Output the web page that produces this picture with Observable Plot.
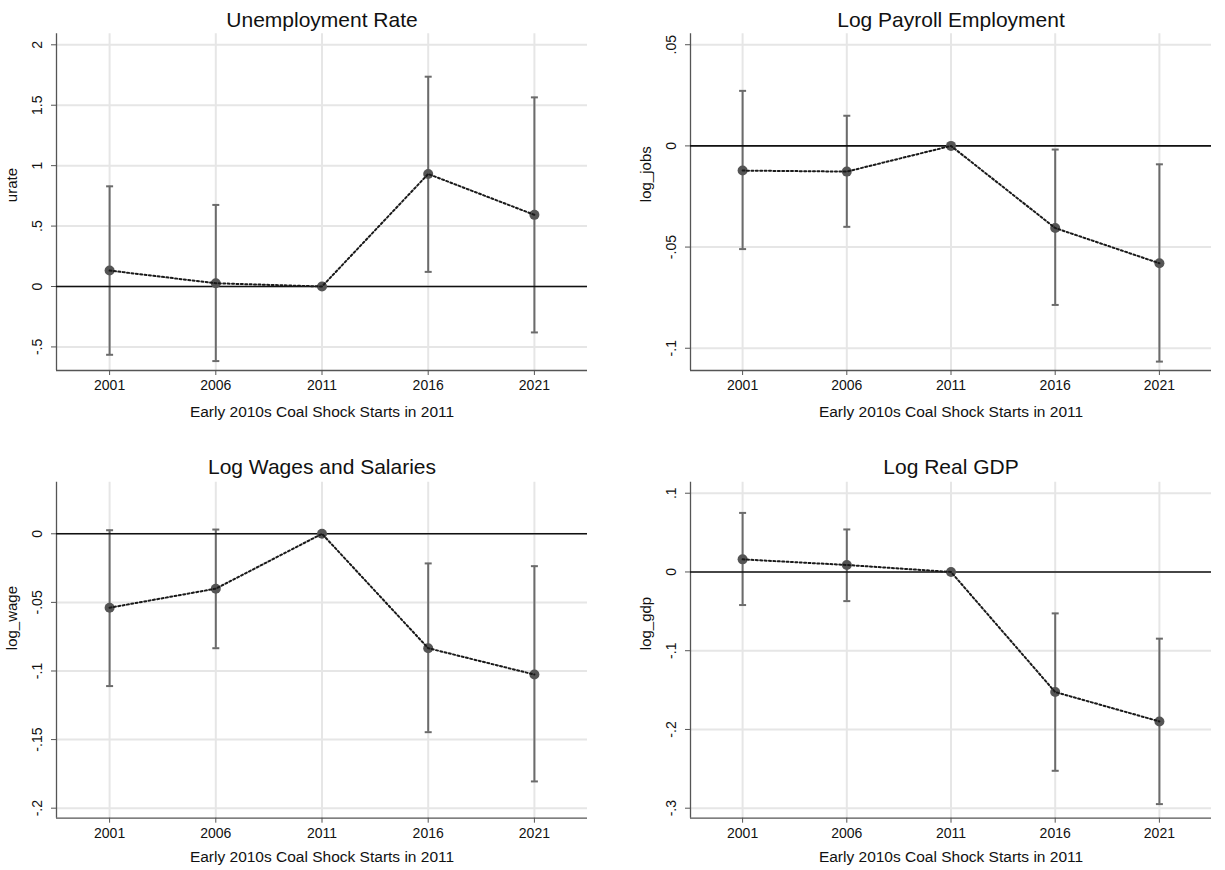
<!DOCTYPE html>
<html><head><meta charset="utf-8">
<script src="https://cdn.jsdelivr.net/npm/d3@7"></script>
<script src="https://cdn.jsdelivr.net/npm/@observablehq/plot@0.6"></script>
<style>
body{margin:0;background:#fff;}
#chart{position:relative;width:1225px;height:870px;background:#fff;overflow:hidden;}
#chart svg{position:absolute;}
</style></head><body><div id="chart"></div>
<script>
// ---- data ----
const years = [2001, 2006, 2011, 2016, 2021];
const xTitle = "Early 2010s Coal Shock Starts in 2011";

const titles = ["Unemployment Rate", "Log Payroll Employment", "Log Wages and Salaries", "Log Real GDP"];
const yNames = ["urate", "log_jobs", "log_wage", "log_gdp"];

const urateCoef = [0.132, 0.027, 0, 0.931, 0.593];
const urateLo   = [-0.565, -0.617, 0, 0.121, -0.380];
const urateHi   = [0.829, 0.675, 0, 1.736, 1.565];
const urateTicks = [-0.5, 0, 0.5, 1, 1.5, 2];
const urateTickLabels = ["-.5", "0", ".5", "1", "1.5", "2"];

const jobsCoef = [-0.0122, -0.0127, 0, -0.0406, -0.0580];
const jobsLo   = [-0.0510, -0.0400, 0, -0.0786, -0.1066];
const jobsHi   = [0.0272, 0.0149, 0, -0.0018, -0.0091];
const jobsTicks = [-0.1, -0.05, 0, 0.05];
const jobsTickLabels = ["-.1", "-.05", "0", ".05"];

const wageCoef = [-0.0539, -0.0400, 0, -0.0834, -0.1026];
const wageLo   = [-0.1110, -0.0834, 0, -0.1446, -0.1805];
const wageHi   = [0.0026, 0.0031, 0, -0.0216, -0.0236];
const wageTicks = [-0.2, -0.15, -0.1, -0.05, 0];
const wageTickLabels = ["-.2", "-.15", "-.1", "-.05", "0"];

const gdpCoef = [0.0160, 0.0089, 0, -0.1525, -0.1898];
const gdpLo   = [-0.0420, -0.0370, 0, -0.2525, -0.2948];
const gdpHi   = [0.0750, 0.0540, 0, -0.0526, -0.0847];
const gdpTicks = [-0.3, -0.2, -0.1, 0, 0.1];
const gdpTickLabels = ["-.3", "-.2", "-.1", "0", ".1"];

const xDomain = [1998.5, 2023.5];
const yDomains = [[-0.695, 2.091], [-0.111, 0.0554], [-0.2073, 0.0376], [-0.3127, 0.114]];

// ---- layout ----
const panels = [
  {coef: urateCoef, lo: urateLo, hi: urateHi, ticks: urateTicks, labels: urateTickLabels,
   left: 0, top: 0, width: 612, height: 430, mL: 56, mR: 25, mT: 33.3, mB: 60, titleDy: -7, xTitleDy: 46},
  {coef: jobsCoef, lo: jobsLo, hi: jobsHi, ticks: jobsTicks, labels: jobsTickLabels,
   left: 612, top: 0, width: 613, height: 430, mL: 78, mR: 14, mT: 33.3, mB: 60, titleDy: -7, xTitleDy: 46},
  {coef: wageCoef, lo: wageLo, hi: wageHi, ticks: wageTicks, labels: wageTickLabels,
   left: 0, top: 430, width: 612, height: 440, mL: 56, mR: 25, mT: 51.7, mB: 52.3, titleDy: -8.5, xTitleDy: 44},
  {coef: gdpCoef, lo: gdpLo, hi: gdpHi, ticks: gdpTicks, labels: gdpTickLabels,
   left: 612, top: 430, width: 613, height: 440, mL: 78, mR: 14, mT: 51.7, mB: 52.3, titleDy: -8.5, xTitleDy: 44}
];

const font = "'Liberation Sans', Arial, Helvetica, sans-serif";
const capSymbol = {draw(ctx) { ctx.moveTo(-3.5, 0); ctx.lineTo(3.5, 0); }};
const container = document.getElementById("chart");

panels.forEach((p, k) => {
  const data = years.map((year, i) => ({year, coef: p.coef[i], lo: p.lo[i], hi: p.hi[i]}));
  const bars = data.filter(d => d.hi !== d.lo);
  const yd = yDomains[k];
  const svg = Plot.plot({
    width: p.width, height: p.height,
    marginLeft: p.mL, marginRight: p.mR, marginTop: p.mT, marginBottom: p.mB,
    style: {fontFamily: font, fontSize: "14px", color: "#111", background: "transparent"},
    x: {domain: xDomain, label: null},
    y: {domain: yd, label: null},
    marks: [
      Plot.gridX(years, {stroke: "#e6e6e6", strokeOpacity: 1, strokeWidth: 2}),
      Plot.gridY(p.ticks, {stroke: "#e6e6e6", strokeOpacity: 1, strokeWidth: 2}),
      Plot.ruleX([xDomain[0]], {stroke: "#555", strokeWidth: 1.3}),
      Plot.ruleY([yd[0]], {stroke: "#555", strokeWidth: 1.3}),
      Plot.axisX({ticks: years, tickFormat: d => String(d), tickSize: 5, tickPadding: 5,
                  stroke: "#555", fill: "#111", fontSize: 14, label: null}),
      Plot.axisY({ticks: p.ticks, tickFormat: d => p.labels[p.ticks.indexOf(d)], tickRotate: -90,
                  tickSize: 5, tickPadding: 10, stroke: "#555", fill: "#111", fontSize: 14, label: null}),
      Plot.ruleX(bars, {x: "year", y1: "lo", y2: "hi", stroke: "#6b6b6b", strokeWidth: 2}),
      Plot.dot(bars, {x: "year", y: "hi", symbol: capSymbol, r: 3.5, fill: "none", stroke: "#6b6b6b", strokeWidth: 2}),
      Plot.dot(bars, {x: "year", y: "lo", symbol: capSymbol, r: 3.5, fill: "none", stroke: "#6b6b6b", strokeWidth: 2}),
      Plot.ruleY([0], {stroke: "#111", strokeWidth: 1.6}),
      Plot.dot(data, {x: "year", y: "coef", r: 5, fill: "#555", stroke: "none"}),
      Plot.line(data, {x: "year", y: "coef", stroke: "#1a1a1a", strokeWidth: 2, strokeDasharray: "2,2.4"}),
      Plot.text([titles[k]], {frameAnchor: "top", lineAnchor: "bottom", dy: p.titleDy,
                 fontSize: 21, fill: "#111", fontFamily: font}),
      Plot.text([xTitle], {frameAnchor: "bottom", lineAnchor: "bottom", dy: p.xTitleDy,
                 fontSize: 15.5, fill: "#111", fontFamily: font}),
      Plot.text([yNames[k]], {frameAnchor: "left", lineAnchor: "bottom", rotate: -90, dx: -39.5,
                 fontSize: 15, fill: "#111", fontFamily: font})
    ]
  });
  svg.style.left = p.left + "px";
  svg.style.top = p.top + "px";
  container.appendChild(svg);
});
</script>
</body></html>
